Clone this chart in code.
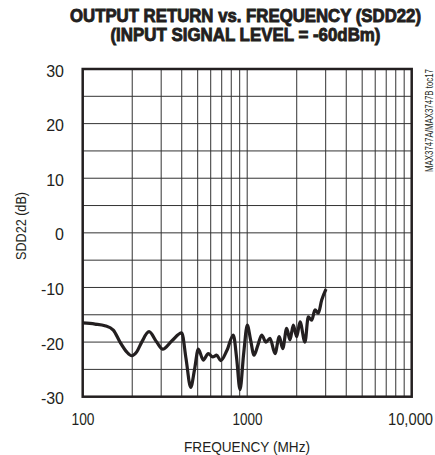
<!DOCTYPE html>
<html>
<head>
<meta charset="utf-8">
<script src="https://cdn.jsdelivr.net/npm/d3@7"></script>
<style>
  body { margin: 0; background: #fff; }
  text { font-family: 'Liberation Sans', Arial, sans-serif; fill: #231f20; }
</style>
</head>
<body>
<div id="chart"></div>
<script>
// sweep of SDD22
const freqMHz = [100, 118.8, 136.6, 153.5, 168.6, 185.1, 198.6, 213, 228.4, 253, 281.8, 306.4, 347.6,
  399.9, 424.6, 453.6, 478.6, 504.3, 541, 580, 616.6, 652.6, 690.2, 753.5, 823.3, 863, 904, 952.6,
  1001.4, 1047, 1099.8, 1163, 1225, 1301, 1376, 1476, 1567, 1644, 1738, 1820, 1906, 2000, 2094,
  2245, 2351, 2466, 2583, 2705, 2837, 3013];
const sdd22 = [-16.5, -16.7, -17.0, -17.8, -20.0, -21.8, -22.5, -21.8, -20.0, -18.1, -20.0, -21.3, -19.8,
  -18.3, -23.0, -28.3, -25.0, -21.3, -23.3, -22.1, -22.7, -22.4, -23.4, -21.5, -18.7, -23.0, -28.7, -22.0,
  -16.9, -19.5, -22.4, -20.5, -18.7, -20.0, -19.3, -22.1, -19.0, -21.2, -17.5, -19.6, -16.9, -19.0, -16.3,
  -20.0, -15.4, -16.0, -14.1, -14.7, -12.3, -10.3];

const yTicks = [30, 20, 10, 0, -10, -20, -30];
const yGrid = [25, 20, 15, 10, 5, 0, -5, -10, -15, -20, -25];
const xTicks = [100, 1000, 10000];
const xTickLabels = ['100', '1000', '10,000'];

const width = 435;
const height = 455;
const margin = { top: 69, right: 23.3, bottom: 58.3, left: 82.7 };

const svg = d3
  .select('#chart')
  .append('svg')
  .attr('width', width)
  .attr('height', height);

const x = d3
  .scaleLog()
  .domain([100, 10000])
  .range([margin.left, width - margin.right]);

const y = d3
  .scaleLinear()
  .domain([-30, 30])
  .range([height - margin.bottom, margin.top]);

// minor decade grid
const xGrid = [];
[100, 1000].forEach((dec) => {
  for (let k = 2; k <= 9; k++) xGrid.push(dec * k);
});
xGrid.push(1000);

svg
  .append('g')
  .selectAll('line')
  .data(xGrid)
  .enter()
  .append('line')
  .attr('x1', (d) => x(d))
  .attr('x2', (d) => x(d))
  .attr('y1', y(30))
  .attr('y2', y(-30))
  .attr('stroke', '#333')
  .attr('stroke-width', 1);

svg
  .append('g')
  .selectAll('line')
  .data(yGrid)
  .enter()
  .append('line')
  .attr('x1', x(100))
  .attr('x2', x(10000))
  .attr('y1', (d) => y(d))
  .attr('y2', (d) => y(d))
  .attr('stroke', '#333')
  .attr('stroke-width', 1);

// trace
const line = d3
  .line()
  .x((d, i) => x(freqMHz[i]))
  .y((d) => y(d))
  .curve(d3.curveMonotoneX);

svg
  .append('path')
  .datum(sdd22)
  .attr('d', line)
  .attr('fill', 'none')
  .attr('stroke', '#231f20')
  .attr('stroke-width', 3.2)
  .attr('stroke-linejoin', 'round');

// frame
svg
  .append('rect')
  .attr('x', x(100))
  .attr('y', y(30))
  .attr('width', x(10000) - x(100))
  .attr('height', y(-30) - y(30))
  .attr('fill', 'none')
  .attr('stroke', '#231f20')
  .attr('stroke-width', 2.5);

// tick labels
svg
  .append('g')
  .selectAll('text')
  .data(yTicks)
  .enter()
  .append('text')
  .attr('x', 64)
  .attr('y', (d) => y(d) + 7.5)
  .attr('text-anchor', 'end')
  .style('font-size', '16px')
  .text((d) => d);

const xLabelLen = [23, 30, 45];
const xLabelX = [83, 247.5, 410.5];
svg
  .append('g')
  .selectAll('text')
  .data(xTicks)
  .enter()
  .append('text')
  .attr('x', (d, i) => xLabelX[i])
  .attr('y', 425)
  .attr('text-anchor', 'middle')
  .attr('textLength', (d, i) => xLabelLen[i])
  .attr('lengthAdjust', 'spacingAndGlyphs')
  .style('font-size', '16px')
  .text((d, i) => xTickLabels[i]);

// axis titles
svg
  .append('text')
  .attr('x', 247)
  .attr('y', 452)
  .attr('text-anchor', 'middle')
  .attr('textLength', 126)
  .attr('lengthAdjust', 'spacingAndGlyphs')
  .style('font-size', '15.5px')
  .text('FREQUENCY (MHz)');

svg
  .append('text')
  .attr('transform', 'translate(26,226) rotate(-90)')
  .attr('text-anchor', 'middle')
  .attr('textLength', 68)
  .attr('lengthAdjust', 'spacingAndGlyphs')
  .style('font-size', '15.5px')
  .text('SDD22 (dB)');

svg
  .append('text')
  .attr('transform', 'translate(433,69) rotate(-90)')
  .attr('text-anchor', 'end')
  .attr('textLength', 103)
  .attr('lengthAdjust', 'spacingAndGlyphs')
  .style('font-size', '10px')
  .text('MAX3747A/MAX3747B toc17');

// title
const title = [
  { text: 'OUTPUT RETURN vs. FREQUENCY (SDD22)', y: 21.7, len: 351 },
  { text: '(INPUT SIGNAL LEVEL = -60dBm)', y: 41, len: 270 }
];
title.forEach((t) => {
  svg
    .append('text')
    .attr('x', 245.5)
    .attr('y', t.y)
    .attr('text-anchor', 'middle')
    .attr('textLength', t.len)
    .attr('lengthAdjust', 'spacingAndGlyphs')
    .style('font-size', '18px')
    .style('font-weight', 'bold')
    .style('stroke', '#231f20')
    .style('stroke-width', 0.9)
    .text(t.text);
});
</script>
</body>
</html>
